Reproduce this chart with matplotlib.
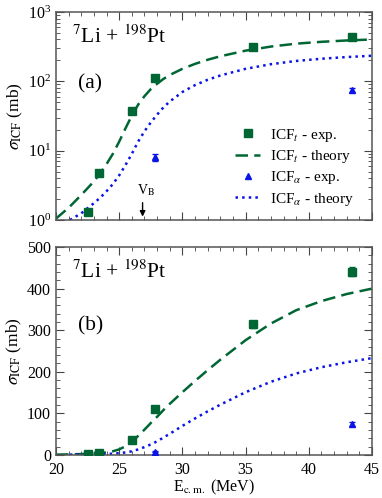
import numpy as np
import matplotlib
matplotlib.use("Agg")
import matplotlib.pyplot as plt
from matplotlib.ticker import MultipleLocator, LogLocator, NullFormatter
from matplotlib.lines import Line2D

plt.rcParams['font.family'] = ['Liberation Serif', 'DejaVu Serif']
plt.rcParams['mathtext.fontset'] = 'stix'

# experimental data
e_t = [22.55, 23.4, 26.0, 27.85, 35.55, 43.4]
icf_t = [1.3, 4.7, 37.0, 111.0, 314.0, 441.0]
icf_t_err = [0.12, 0.45, 3.0, 7.0, 9.0, 11.0]

e_a = [27.85, 43.4]
icf_a = [8.0, 75.0]
icf_a_err = [0.9, 5.0]

# theory curves
th_e = [20, 21, 22, 23, 23.5, 24, 24.5, 25, 25.5, 26, 26.5, 27, 27.5, 28, 28.5,
        29, 30, 31, 32, 33, 35, 37, 39, 41, 43, 45]
th_t = [1.05, 1.5, 2.3, 3.6, 4.7, 6.4, 9.0, 13.5, 21, 32, 46, 61, 77, 92, 108,
        123, 151, 178, 204, 229, 276, 316, 348, 370, 387, 400]
th_a_e = [21.1, 22, 23, 23.5, 24, 24.5, 25, 25.5, 26, 26.5, 27, 27.5, 28, 28.5,
          29, 30, 31, 32, 33, 35, 37, 39, 41, 43, 45]
th_a = [1.0, 1.25, 1.75, 2.1, 2.6, 3.3, 4.4, 6.2, 9.0, 13.5, 19, 25.5, 33, 42,
        51, 70, 88, 105, 121, 151, 176, 196, 211, 223, 233]

green = '#006633'
blue = '#0a14e6'

fig = plt.figure(figsize=(3.82, 4.98), dpi=100)
ax1 = fig.add_axes([0.1466, 0.5582, 0.8272, 0.418])
ax2 = fig.add_axes([0.1466, 0.0863, 0.8272, 0.4177])

for ax in (ax1, ax2):
    ax.errorbar(e_t, icf_t, yerr=icf_t_err, fmt='s', color=green, ms=6,
                capsize=2.5, elinewidth=1, zorder=3)
    ax.plot(th_e, th_t, '--', color=green, lw=1.8, dashes=(5, 2.5))
    ax.errorbar(e_a, icf_a, yerr=icf_a_err, fmt='^', color=blue, ms=5,
                capsize=2.5, elinewidth=1, zorder=3)
    ax.plot(th_a_e, th_a, ':', color=blue, lw=1.8)
    ax.set_xlim(20, 45)
    ax.xaxis.set_major_locator(MultipleLocator(5))
    ax.xaxis.set_minor_locator(MultipleLocator(1))
    ax.tick_params(which='both', direction='in', top=True, right=True,
                   labelsize=11.5, color='#444444')
    ax.tick_params(which='major', length=6)
    ax.tick_params(which='minor', length=3)
    ax.tick_params(axis='x', pad=5)
    for s in ax.spines.values():
        s.set_color('#555555')
        s.set_linewidth(1.1)
    ax.set_ylabel(r'$\sigma_{\rm ICF}$ (mb)', fontsize=12.5, labelpad=2)
    ax.text(0.05, 0.85, r'$^{7}$Li + $^{198}$Pt', transform=ax.transAxes,
            fontsize=15.5)

ax1.set_yscale('log')
ax1.set_ylim(1, 1000)
ax1.yaxis.set_major_locator(LogLocator(base=10))
ax1.yaxis.set_minor_locator(LogLocator(base=10, subs=np.arange(2, 10)))
ax1.yaxis.set_minor_formatter(NullFormatter())
ax1.tick_params(labelbottom=False)
ax1.text(0.07, 0.63, '(a)', transform=ax1.transAxes, fontsize=15.5)
ax1.annotate('', xy=(26.85, 1.02), xytext=(26.85, 1.95),
             arrowprops=dict(arrowstyle='-|>', color='black', lw=1,
                             mutation_scale=8))
ax1.text(27.15, 2.05, r'V$_{\rm B}$', fontsize=10, ha='center', va='bottom')

handles = [
    Line2D([], [], ls='none', marker='s', ms=6, color=green),
    Line2D([], [], ls='--', dashes=(5, 2.5), lw=1.8, color=green),
    Line2D([], [], ls='none', marker='^', ms=5, color=blue),
    Line2D([], [], ls=':', lw=1.8, color=blue),
]
labels = [r'ICF$_t$ - exp.', r'ICF$_t$ - theory',
          r'ICF$_\alpha$ - exp.', r'ICF$_\alpha$ - theory']
ax1.legend(handles, labels, loc='lower right', frameon=False, fontsize=11,
           handlelength=1.6, labelspacing=0.28, borderaxespad=0.0,
           borderpad=0.4, handletextpad=0.65, bbox_to_anchor=(0.962, 0.03))

ax2.set_ylim(0, 500)
ax2.yaxis.set_major_locator(MultipleLocator(100))
ax2.yaxis.set_minor_locator(MultipleLocator(20))
ax2.text(0.07, 0.6, '(b)', transform=ax2.transAxes, fontsize=15.5)
ax2.set_xlabel(r'E$_{\rm c.m.}$ (MeV)', fontsize=11.5, labelpad=0)

fig.savefig('out.png', dpi=100)
